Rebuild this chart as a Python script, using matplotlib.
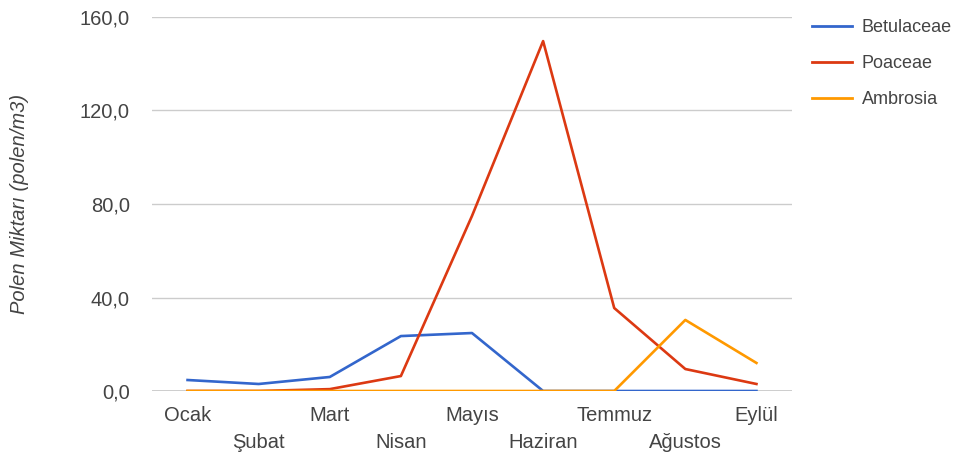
import matplotlib.pyplot as plt
from matplotlib.lines import Line2D

months = ['Ocak', 'Şubat', 'Mart', 'Nisan', 'Mayıs', 'Haziran', 'Temmuz', 'Ağustos', 'Eylül']
betulaceae = [4.7, 3.0, 6.0, 23.5, 24.8, 0, 0, 0, 0]
poaceae = [0, 0, 0.8, 6.4, 74.9, 149.7, 35.5, 9.4, 3.0]
ambrosia = [0, 0, 0, 0, 0, 0, 0, 30.4, 12.0]
series = [('Betulaceae', betulaceae, '#3366cc'),
          ('Poaceae', poaceae, '#dc3912'),
          ('Ambrosia', ambrosia, '#ff9900')]
yticks = [0, 40, 80, 120, 160]

plt.rcParams['font.family'] = ['Liberation Sans', 'DejaVu Sans']
fs = 14.5
tc = '#444444'

fig = plt.figure(figsize=(9.73, 4.61), dpi=100)
ax = fig.add_axes([152 / 973, 1 - 391 / 461, 640 / 973, 374 / 461])

x = list(range(len(months)))
for name, vals, col in series:
    ax.plot(x, vals, color=col, lw=1.9, solid_joinstyle='round', zorder=3)

ax.set_xlim(-0.5, 8.5)
ax.set_ylim(0, 160)
ax.set_yticks(yticks)
ax.set_yticklabels([f'{v:.1f}'.replace('.', ',') for v in yticks])
ax.yaxis.grid(True, color='#cccccc', lw=1)
ax.axhline(0, color='#333333', lw=1, zorder=2)
ax.set_axisbelow(True)
for s in ax.spines.values():
    s.set_visible(False)
ax.tick_params(axis='both', length=0, labelsize=fs, colors=tc)
ax.tick_params(axis='y', pad=16)

ax.set_xticks(x)
ax.set_xticklabels([])
for i, m in enumerate(months):
    off = 24 if i % 2 == 0 else 51
    ax.annotate(m, (i, 0), xycoords=('data', 'axes fraction'), xytext=(0, -off),
                textcoords='offset pixels', ha='center', va='center',
                fontsize=fs, color=tc)

fig.text(20 / 973, 1 - 204 / 461, 'Polen Miktarı (polen/m3)', rotation=90,
         ha='center', va='center', fontstyle='italic', fontsize=fs, color=tc)

handles = [Line2D([], [], color=c, lw=2) for _, _, c in series]
fig.legend(handles, [n for n, _, _ in series], loc='upper left',
           bbox_to_anchor=(796 / 973, 1 - 3 / 461), frameon=False,
           fontsize=13, labelcolor=tc, handlelength=2.2,
           handletextpad=0.55, labelspacing=1.05)

fig.savefig('out.png', dpi=100)
